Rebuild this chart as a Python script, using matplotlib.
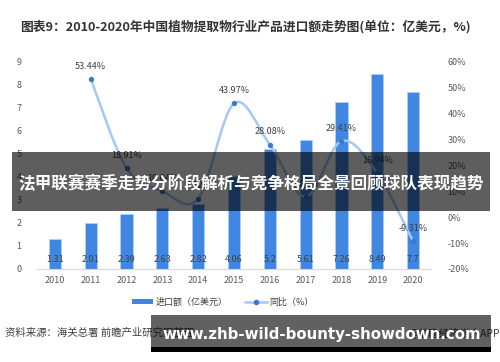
import matplotlib
matplotlib.use("Agg")
import matplotlib.pyplot as plt
from matplotlib.path import Path
from matplotlib.patches import PathPatch, Rectangle, Patch
from matplotlib.lines import Line2D

plt.rcParams['font.family'] = ['Noto Sans CJK SC', 'DejaVu Sans']

years = ['2010', '2011', '2012', '2013', '2014', '2015', '2016', '2017', '2018', '2019', '2020']
imports = [1.31, 2.01, 2.39, 2.63, 2.82, 4.06, 5.2, 5.61, 7.26, 8.49, 7.7]
growth = [None, 53.44, 18.91, 10.04, 7.22, 43.97, 28.08, 7.88, 29.41, 16.94, -9.31]
growth_labels = ['', '53.44%', '18.91%', '10.04%', '7.22%', '43.97%', '28.08%', '7.88%', '29.41%', '16.94%', '-9.31%']

bar_color = '#3f87e3'
line_color = '#a6c8f4'
mark_color = '#3a78d6'
text_gray = '#595959'

fig = plt.figure(figsize=(5, 3.62), dpi=100)
ax = fig.add_axes([0.074, 0.257, 0.788, 0.572])
ax2 = ax.twinx()

x = list(range(len(years)))
ax.bar(x, imports, width=0.34, color=bar_color, edgecolor='#b3d0f5', linewidth=0.6, zorder=2)
for xi, v in zip(x, imports):
    ax.text(xi, 0.42, str(v), ha='center', va='center', fontsize=6.5, color='#404040', zorder=3)

ax.set_xlim(-0.5, 10.5)
ax.set_ylim(0, 9)
ax.set_yticks(range(0, 10))
ax.set_xticks(x)
ax.set_xticklabels(years)
ax.tick_params(axis='y', length=0, pad=11, labelsize=6.5, labelcolor=text_gray)
ax.tick_params(axis='x', length=0, pad=5, labelsize=6.5, labelcolor=text_gray)
for s in ['top', 'left', 'right']:
    ax.spines[s].set_visible(False)
ax.spines['bottom'].set_color('#d9d9d9')

# smooth line (Catmull-Rom -> Bezier) through the growth points
pts = [(xi, g) for xi, g in zip(x, growth) if g is not None]
verts = [pts[0]]
codes = [Path.MOVETO]
for i in range(len(pts) - 1):
    p0 = pts[i - 1] if i > 0 else pts[i]
    p1 = pts[i]
    p2 = pts[i + 1]
    p3 = pts[i + 2] if i + 2 < len(pts) else pts[i + 1]
    c1 = (p1[0] + (p2[0] - p0[0]) / 6, p1[1] + (p2[1] - p0[1]) / 6)
    c2 = (p2[0] - (p3[0] - p1[0]) / 6, p2[1] - (p3[1] - p1[1]) / 6)
    verts += [c1, c2, p2]
    codes += [Path.CURVE4] * 3
ax2.add_patch(PathPatch(Path(verts, codes), facecolor='none', edgecolor=line_color, lw=1.8, zorder=3))
px = [p[0] for p in pts]
py = [p[1] for p in pts]
ax2.plot(px, py, linestyle='none', marker='o', ms=2.8, color=mark_color, zorder=4)
for xi, g, lab in zip(x, growth, growth_labels):
    if g is not None:
        ax2.text(xi, g + 3.2, lab, ha='center', va='bottom', fontsize=6.5, color='#404040', zorder=5)

ax2.set_ylim(-20, 60)
ax2.set_yticks(range(-20, 61, 10))
ax2.set_yticklabels(['%d%%' % v for v in range(-20, 61, 10)])
ax2.tick_params(axis='y', length=0, pad=12, labelsize=6.5, labelcolor=text_gray)
for s in ['top', 'left', 'right', 'bottom']:
    ax2.spines[s].set_visible(False)

fig.text(0.04, 1 - 27 / 362, '图表9：2010-2020年中国植物提取物行业产品进口额走势图(单位：亿美元，%)',
         fontsize=9.2, fontweight='bold', color='#333333', va='center')

handles = [Patch(facecolor=bar_color, edgecolor='none'),
           Line2D([0], [0], color=line_color, lw=1.8, marker='o', ms=3, mfc=mark_color, mec=mark_color)]
fig.legend(handles, ['进口额（亿美元）', '同比（%）'], loc='center', bbox_to_anchor=(0.445, 1 - 302 / 362),
           ncol=2, frameon=False, fontsize=6.5, handlelength=2.4, handleheight=0.5, handletextpad=0.2,
           columnspacing=2.0, labelcolor='#404040')

fig.text(0.01, 1 - 333 / 362, '资料来源：海关总署 前瞻产业研究院整理', fontsize=7.5, color='#404040', va='center')
fig.text(1.0, 1 - 333 / 362, '@前瞻经济学人APP', fontsize=7.5, color='#404040', va='center', ha='right')

# overlay banner
fig.add_artist(Rectangle((12 / 500, 1 - 211 / 362), 478 / 500, 59 / 362, transform=fig.transFigure,
                         facecolor='black', alpha=0.63, edgecolor='none', zorder=10))
fig.text(251 / 500, 1 - 184 / 362, '法甲联赛赛季走势分阶段解析与竞争格局全景回顾球队表现趋势',
         fontsize=12.0, fontweight='bold', color='white', ha='center', va='center', zorder=11)

# bottom watermark
fig.add_artist(Rectangle((151 / 500, 1 - 347 / 362), 340 / 500, 32 / 362, transform=fig.transFigure,
                         facecolor='black', alpha=0.62, edgecolor='none', zorder=10))
fig.add_artist(Rectangle((151 / 500, 1 - 352 / 362), 340 / 500, 5 / 362, transform=fig.transFigure,
                         facecolor='black', edgecolor='none', zorder=10))
fig.text(322 / 500, 1 - 334 / 362, 'www.zhb-wild-bounty-showdown.com', fontsize=10.8, fontweight='bold',
         color='white', ha='center', va='center', zorder=11, family='DejaVu Sans')

fig.savefig('out.png', dpi=100)
